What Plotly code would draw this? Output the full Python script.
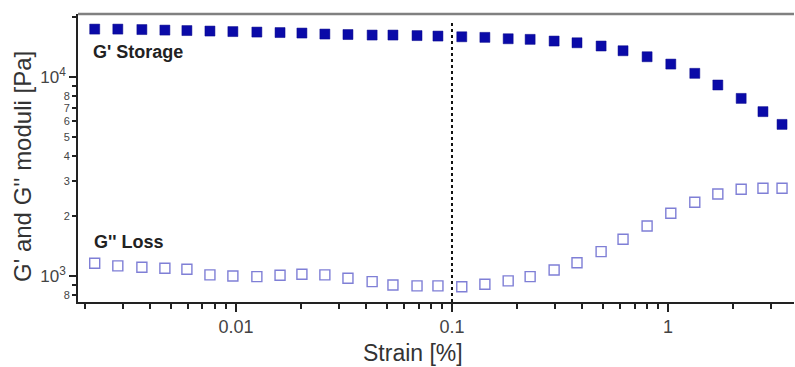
import plotly.graph_objects as go

strain = [0.00222, 0.00284, 0.00367, 0.00469, 0.00593, 0.00758, 0.00968, 0.0125,
          0.0160, 0.0202, 0.0258, 0.0330, 0.0427, 0.0533, 0.0689, 0.0861,
          0.111, 0.142, 0.182, 0.230, 0.297, 0.379, 0.490, 0.619, 0.800,
          1.03, 1.33, 1.70, 2.18, 2.75, 3.37]

g_storage = [17420, 17420, 17330, 17220, 17130, 17030, 16930, 16830, 16740, 16640,
             16450, 16360, 16260, 16260, 16160, 16070, 15940, 15830, 15580, 15470,
             15170, 14870, 14320, 13560, 12650, 11620, 10440, 9120, 7810, 6700, 5780]

g_loss = [1158, 1123, 1106, 1093, 1081, 1012, 1000, 992, 1008, 1020, 1012, 974,
          936, 901, 891, 891, 883, 909, 944, 992, 1072, 1166, 1325, 1529, 1783,
          2066, 2347, 2583, 2728, 2758, 2758]

x_major = [0.01, 0.1, 1]
x_major_text = ["0.01", "0.1", "1"]
x_minor = [0.002, 0.003, 0.004, 0.005, 0.006, 0.007, 0.008, 0.009,
           0.02, 0.03, 0.04, 0.05, 0.06, 0.07, 0.08, 0.09,
           0.2, 0.3, 0.4, 0.5, 0.6, 0.7, 0.8, 0.9, 2, 3]

y_major = [1000, 10000]
y_major_text = ["10<sup>3</sup>", "10<sup>4</sup>"]
y_minor_lab = [800, 2000, 3000, 4000, 5000, 6000, 7000, 8000]
y_minor_text = ["8", "2", "3", "4", "5", "6", "7", "8"]
y_minor = [900, 9000, 20000]

FONT = "Liberation Sans, Arial, sans-serif"
YRANGE = [2.869, 4.317]

fig = go.Figure()
fig.add_trace(go.Scatter(
    x=strain, y=g_storage, mode="markers", name="G' Storage",
    marker=dict(symbol="square", size=10, color="#0a0aa8",
                line=dict(width=0.5, color="#06068a")),
))
fig.add_trace(go.Scatter(
    x=strain, y=g_loss, mode="markers", name="G'' Loss", yaxis="y2",
    marker=dict(symbol="square-open", size=10, color="#7f7fd6",
                line=dict(width=1.4)),
))

W, H = 795, 367
L, R, T, B = 78, 1, 14, 65
pw = W - L - R
ph = H - T - B

fig.update_layout(
    width=W, height=H,
    margin=dict(l=L, r=R, t=T, b=B),
    paper_bgcolor="white", plot_bgcolor="white",
    showlegend=False,
    font=dict(family=FONT, color="#444"),
    xaxis=dict(
        type="log", range=[-2.731, 0.583],
        showgrid=False, zeroline=False,
        showline=True, linecolor="#222", linewidth=1.5,
        tickmode="array", tickvals=x_major, ticktext=x_major_text,
        ticks="outside", ticklen=8, tickwidth=1.5, tickcolor="#222",
        tickfont=dict(size=18, color="#444", family=FONT),
        minor=dict(tickmode="array", tickvals=x_minor, ticks="outside",
                   ticklen=5, tickwidth=1.5, tickcolor="#222", showgrid=False),
    ),
    yaxis=dict(
        type="log", range=YRANGE,
        showgrid=False, zeroline=False,
        showline=True, linecolor="#222", linewidth=1.5,
        tickmode="array", tickvals=y_major, ticktext=y_major_text,
        ticks="outside", ticklen=7, tickwidth=1.5, tickcolor="#222",
        tickfont=dict(size=17, color="#444", family=FONT),
        minor=dict(tickmode="array", tickvals=y_minor, ticks="outside",
                   ticklen=4, tickwidth=1.5, tickcolor="#222", showgrid=False),
    ),
    yaxis2=dict(
        type="log", range=YRANGE, overlaying="y", side="left",
        showgrid=False, zeroline=False, showline=False,
        tickmode="array", tickvals=y_minor_lab, ticktext=y_minor_text,
        ticks="outside", ticklen=5, tickwidth=1.5, tickcolor="#222",
        tickfont=dict(size=11, color="#444", family=FONT),
    ),
    shapes=[
        dict(type="line", xref="paper", yref="paper", x0=0, x1=1, y0=1, y1=1,
             line=dict(color="#808080", width=2.5)),
        dict(type="line", xref="x", yref="paper", x0=0.1, x1=0.1, y0=0, y1=(302 - 20) / ph,
             line=dict(color="#111", width=2, dash="dot")),
    ],
    annotations=[
        dict(text="G' Storage", xref="paper", yref="paper",
             x=(91 - L) / pw, y=(302 - 52) / ph, xanchor="left", yanchor="middle",
             showarrow=False, font=dict(size=18, color="#222", family=FONT, weight="bold")),
        dict(text="G'' Loss", xref="paper", yref="paper",
             x=(92 - L) / pw, y=(302 - 242) / ph, xanchor="left", yanchor="middle",
             showarrow=False, font=dict(size=18, color="#222", family=FONT, weight="bold")),
        dict(text="G' and G'' moduli [Pa]", xref="paper", yref="paper",
             x=0, xshift=-(L - 22), y=(302 - 167) / ph, textangle=-90,
             xanchor="center", yanchor="middle", showarrow=False,
             font=dict(size=24, color="#333", family=FONT)),
        dict(text="Strain [%]", xref="paper", yref="paper",
             x=(413 - L) / pw, y=0, yshift=-(353 - 302), xanchor="center", yanchor="middle",
             showarrow=False, font=dict(size=23, color="#333", family=FONT)),
    ],
)

fig.write_html("out.html")
